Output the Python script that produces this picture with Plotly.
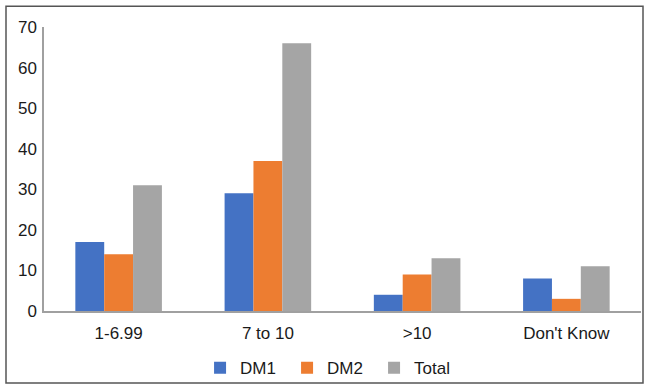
import plotly.graph_objects as go

categories = ["1-6.99", "7 to 10", ">10", "Don't Know"]
dm1 = [17, 29, 4, 8]
dm2 = [14, 37, 9, 3]
total = [31, 66, 13, 11]
y_ticks = [0, 10, 20, 30, 40, 50, 60, 70]

W, H = 645, 390
ml, mr, mt, mb = 44, 4, 27, 75
pw, ph = W - ml - mr, H - mt - mb

fig = go.Figure()
for name, vals, color in [("DM1", dm1, "#4472C4"),
                          ("DM2", dm2, "#ED7D31"),
                          ("Total", total, "#A5A5A5")]:
    fig.add_trace(go.Bar(x=categories, y=vals, name=name,
                         marker=dict(color=color, line=dict(width=0))))

# outer frame around the whole figure, expressed in paper coordinates
def px_x(x):
    return (x - ml) / pw

def px_y(y):
    return (H - mb - y) / ph

fig.add_shape(type="rect", xref="paper", yref="paper",
              x0=px_x(6), x1=px_x(643), y0=px_y(388), y1=px_y(6),
              line=dict(color="#555555", width=1.5), fillcolor="rgba(0,0,0,0)")

fig.update_layout(
    width=W, height=H,
    margin=dict(l=ml, r=mr, t=mt, b=mb),
    paper_bgcolor="white", plot_bgcolor="white",
    barmode="group", bargap=0.42, bargroupgap=0,
    font=dict(family="Liberation Sans, Arial, sans-serif", size=17, color="#1a1a1a"),
    showlegend=True,
    legend=dict(orientation="h", x=0.48, xanchor="center", y=px_y(373), yanchor="middle",
                font=dict(size=17), itemwidth=30, entrywidth=42,
                bgcolor="rgba(0,0,0,0)", traceorder="normal"),
    xaxis=dict(showline=True, linecolor="#A0A0A0", linewidth=1.5,
               showgrid=False, ticks="", tickfont=dict(size=17),
               ticklabelstandoff=6),
    yaxis=dict(range=[0, 70], tickvals=y_ticks, showline=True,
               linecolor="#A0A0A0", linewidth=1.5, showgrid=False,
               zeroline=False, ticks="", tickfont=dict(size=17),
               ticklabelstandoff=2),
)

fig.write_html("out.html")
